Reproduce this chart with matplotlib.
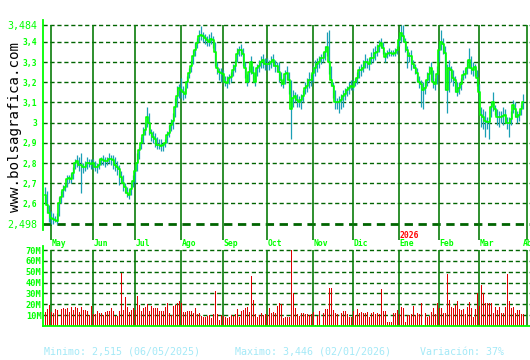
import matplotlib
matplotlib.use('Agg')
from matplotlib import pyplot as plt

# cierres diarios (abr-2025 .. mar-2026)
close_apr = [2.64, 2.59, 2.55]
close_may = [2.53, 2.525, 2.52, 2.515, 2.60, 2.63, 2.665, 2.68, 2.72, 2.725, 2.72,
             2.75, 2.80, 2.81, 2.79, 2.79, 2.78, 2.78, 2.80, 2.80, 2.795]
close_jun = [2.80, 2.78, 2.78, 2.79, 2.82, 2.815, 2.81, 2.81, 2.82, 2.82, 2.815,
             2.79, 2.78, 2.77, 2.73, 2.70, 2.68, 2.65, 2.64, 2.67, 2.71]
close_jul = [2.76, 2.80, 2.865, 2.90, 2.94, 2.965, 3.03, 3.00, 2.95, 2.93, 2.92, 2.89,
             2.89, 2.885, 2.89, 2.90, 2.94, 2.95, 2.99, 3.01, 3.08, 3.13, 3.17]
close_ago = [3.16, 3.15, 3.14, 3.20, 3.245, 3.28, 3.33, 3.36, 3.395, 3.43, 3.435,
             3.43, 3.42, 3.41, 3.40, 3.415, 3.41, 3.35, 3.27, 3.25, 3.245]
close_sep = [3.24, 3.20, 3.195, 3.22, 3.225, 3.26, 3.28, 3.34, 3.36, 3.36, 3.34,
             3.27, 3.20, 3.25, 3.30, 3.245, 3.20, 3.27, 3.28, 3.30, 3.31, 3.29]
close_oct = [3.29, 3.29, 3.30, 3.31, 3.28, 3.28, 3.25, 3.21, 3.19, 3.24, 3.245, 3.21,
             3.07, 3.12, 3.13, 3.11, 3.10, 3.11, 3.13, 3.17, 3.18, 3.21, 3.21]
close_nov = [3.245, 3.27, 3.29, 3.30, 3.32, 3.32, 3.35, 3.375, 3.30, 3.21, 3.18,
             3.10, 3.10, 3.10, 3.11, 3.13, 3.14, 3.16, 3.17, 3.18]
close_dic = [3.175, 3.20, 3.22, 3.26, 3.26, 3.27, 3.30, 3.30, 3.29, 3.32, 3.32, 3.345,
             3.35, 3.38, 3.395, 3.37, 3.325, 3.34, 3.345, 3.345, 3.34, 3.345, 3.36]
close_ene = [3.41, 3.446, 3.43, 3.40, 3.36, 3.33, 3.33, 3.29, 3.27, 3.245, 3.20,
             3.19, 3.16, 3.17, 3.21, 3.24, 3.27, 3.20, 3.19, 3.24]
close_feb = [3.36, 3.40, 3.39, 3.345, 3.16, 3.27, 3.26, 3.22, 3.21, 3.15, 3.17,
             3.19, 3.235, 3.24, 3.27, 3.31, 3.27, 3.26, 3.275, 3.22]
close_mar = [3.15, 3.04, 3.03, 3.01, 3.005, 3.004, 3.08, 3.10, 3.07, 3.03, 3.03, 3.03,
             3.035, 3.04, 3.00, 3.00, 3.02, 3.09, 3.07, 3.03, 3.04, 3.07, 3.10]

high_apr = [2.68, 2.66, 2.59]
high_may = [2.56, 2.55, 2.54, 2.55, 2.63, 2.66, 2.69, 2.70, 2.74, 2.74, 2.75,
            2.78, 2.82, 2.84, 2.83, 2.85, 2.80, 2.81, 2.83, 2.82, 2.82]
high_jun = [2.82, 2.81, 2.80, 2.82, 2.83, 2.84, 2.83, 2.83, 2.85, 2.84, 2.84,
            2.83, 2.81, 2.79, 2.76, 2.74, 2.70, 2.68, 2.67, 2.70, 2.74]
high_jul = [2.79, 2.85, 2.88, 2.93, 2.98, 3.00, 3.08, 3.05, 2.97, 2.96, 2.95, 2.93,
            2.92, 2.92, 2.90, 2.92, 2.96, 2.99, 3.02, 3.05, 3.12, 3.18, 3.19]
high_ago = [3.22, 3.18, 3.17, 3.23, 3.27, 3.31, 3.36, 3.40, 3.42, 3.46, 3.48,
            3.45, 3.44, 3.43, 3.44, 3.45, 3.43, 3.40, 3.30, 3.27, 3.27]
high_sep = [3.26, 3.23, 3.23, 3.24, 3.25, 3.29, 3.31, 3.37, 3.38, 3.39, 3.37,
            3.30, 3.24, 3.28, 3.33, 3.28, 3.25, 3.29, 3.31, 3.33, 3.34, 3.32]
high_oct = [3.32, 3.31, 3.33, 3.34, 3.31, 3.30, 3.30, 3.25, 3.22, 3.26, 3.28, 3.25,
            3.21, 3.16, 3.15, 3.14, 3.13, 3.14, 3.16, 3.20, 3.22, 3.25, 3.24]
high_nov = [3.28, 3.31, 3.32, 3.33, 3.34, 3.35, 3.38, 3.45, 3.46, 3.28, 3.20,
            3.16, 3.12, 3.13, 3.14, 3.16, 3.17, 3.18, 3.20, 3.21]
high_dic = [3.21, 3.22, 3.25, 3.28, 3.29, 3.31, 3.34, 3.32, 3.32, 3.35, 3.37, 3.38,
            3.39, 3.41, 3.42, 3.40, 3.35, 3.36, 3.37, 3.36, 3.36, 3.37, 3.38]
high_ene = [3.43, 3.484, 3.484, 3.42, 3.38, 3.35, 3.36, 3.31, 3.29, 3.27, 3.23,
            3.21, 3.20, 3.21, 3.25, 3.28, 3.30, 3.26, 3.22, 3.28]
high_feb = [3.39, 3.46, 3.42, 3.38, 3.29, 3.31, 3.28, 3.26, 3.23, 3.20, 3.20,
            3.22, 3.26, 3.27, 3.31, 3.37, 3.33, 3.30, 3.29, 3.26]
high_mar = [3.19, 3.08, 3.07, 3.06, 3.03, 3.03, 3.10, 3.15, 3.09, 3.07, 3.06, 3.06,
            3.08, 3.07, 3.03, 3.03, 3.06, 3.11, 3.10, 3.06, 3.06, 3.09, 3.14]

low_apr = [2.60, 2.55, 2.51]
low_may = [2.50, 2.498, 2.51, 2.50, 2.54, 2.60, 2.63, 2.66, 2.68, 2.70, 2.70,
           2.72, 2.77, 2.78, 2.76, 2.65, 2.75, 2.76, 2.77, 2.78, 2.77]
low_jun = [2.77, 2.76, 2.75, 2.77, 2.79, 2.79, 2.78, 2.79, 2.80, 2.79, 2.77,
           2.76, 2.74, 2.69, 2.70, 2.66, 2.65, 2.63, 2.62, 2.64, 2.68]
low_jul = [2.70, 2.76, 2.82, 2.87, 2.90, 2.94, 2.98, 2.94, 2.91, 2.90, 2.88, 2.87,
           2.87, 2.86, 2.86, 2.88, 2.90, 2.93, 2.96, 2.97, 3.03, 3.08, 3.12]
low_ago = [3.12, 3.11, 3.12, 3.17, 3.22, 3.25, 3.29, 3.33, 3.37, 3.40, 3.41,
           3.40, 3.39, 3.38, 3.38, 3.39, 3.37, 3.28, 3.24, 3.21, 3.20]
low_sep = [3.20, 3.18, 3.17, 3.19, 3.20, 3.23, 3.25, 3.30, 3.33, 3.33, 3.28,
           3.22, 3.18, 3.20, 3.24, 3.20, 3.18, 3.23, 3.25, 3.27, 3.27, 3.26]
low_oct = [3.26, 3.26, 3.27, 3.28, 3.25, 3.25, 3.20, 3.18, 3.17, 3.19, 3.21, 3.14,
           2.92, 3.08, 3.10, 3.08, 3.08, 3.07, 3.10, 3.14, 3.15, 3.17, 3.18]
low_nov = [3.20, 3.23, 3.25, 3.27, 3.29, 3.30, 3.31, 3.33, 3.24, 3.18, 3.12,
           3.07, 3.07, 3.05, 3.07, 3.08, 3.11, 3.13, 3.14, 3.16]
low_dic = [3.16, 3.18, 3.19, 3.22, 3.23, 3.25, 3.27, 3.27, 3.26, 3.29, 3.30, 3.31,
           3.33, 3.35, 3.37, 3.34, 3.30, 3.32, 3.33, 3.33, 3.33, 3.33, 3.34]
low_ene = [3.38, 3.40, 3.40, 3.35, 3.27, 3.30, 3.26, 3.27, 3.24, 3.20, 3.17,
           3.08, 3.07, 3.14, 3.18, 3.20, 3.21, 3.17, 3.16, 3.19]
low_feb = [3.30, 3.36, 3.34, 3.16, 3.05, 3.15, 3.20, 3.18, 3.15, 3.13, 3.14,
           3.16, 3.21, 3.22, 3.24, 3.27, 3.24, 3.23, 3.23, 3.18]
low_mar = [3.10, 2.98, 2.97, 2.93, 2.97, 2.92, 3.03, 3.06, 3.04, 2.99, 2.98, 3.00,
           2.99, 3.00, 2.97, 2.93, 2.99, 3.05, 3.03, 3.00, 3.01, 3.04, 3.07]

# volumen diario en millones
vol_a = [13.2, 15.6, 19.3, 13.2, 12.3, 15.6, 14.7, 0.9, 15.6, 16.3,
         15.6, 16.3, 13.2, 17.8, 14.7, 17.8, 16.3, 13.2, 17.8, 14.7,
         14.7, 13.8, 10.1, 18.7, 11.0, 11.0, 14.1, 12.3, 11.7, 10.1,
         12.6, 14.1, 14.1, 16.3, 13.8, 9.2, 9.2, 14.1, 48.5, 14.7,
         27.0, 17.8, 13.2, 14.7, 16.3, 14.7, 27.6, 19.3, 14.1, 16.3,
         17.8, 20.2, 13.8, 18.7, 16.3, 16.3, 16.3, 13.8, 13.8, 14.1,
         17.8, 20.9, 11.7, 10.1, 18.7, 19.3, 20.9, 23.0, 21.5, 13.2,
         13.2, 13.8, 13.8, 13.8, 11.7, 16.3, 11.0, 11.7, 9.2, 8.6,
         8.6, 9.2, 10.1, 7.7, 11.0, 32.2, 11.0, 5.5, 10.1, 9.2,
         8.6, 7.4, 8.0, 10.1, 9.2, 11.0, 15.6, 8.6, 13.8, 14.7,
         16.3, 17.8, 13.2, 46.0, 23.9, 11.0, 8.6, 10.1, 12.3, 10.1,
         11.0, 10.1, 16.3]
vol_b = [11.7, 13.2, 11.7, 18.5, 20.9, 20.3, 7.1, 8.0, 8.6, 8.0,
         70.2, 30.2, 16.3, 10.8, 9.2, 12.3, 11.7, 10.8, 10.8, 10.2,
         10.8, 13.2, 0.8, 9.2, 13.8, 0.8, 11.7, 15.7, 15.7, 34.8,
         34.8, 14.8, 11.7, 10.8, 0.9, 11.7, 13.8, 13.8, 10.8, 8.6,
         8.6, 13.8, 10.2, 15.4, 12.3, 13.2, 11.7, 12.3, 13.2, 8.6,
         11.7, 13.2, 10.8, 12.3, 10.8, 34.2, 13.8, 13.8, 4.0, 4.0,
         4.0, 11.7, 12.3, 14.8, 10.8, 17.2, 16.3, 4.0, 10.2, 10.2,
         10.8, 18.5, 10.2, 11.7, 10.8, 20.9, 0.9, 11.7, 8.6, 9.2,
         13.2, 16.3, 10.8, 20.9, 16.3, 16.9, 11.7, 11.7, 48.0, 24.0,
         17.2, 16.3, 19.4, 23.1, 15.4, 14.8, 15.4, 10.8, 17.2, 22.5,
         16.3, 8.6, 15.4, 30.2, 18.5, 37.8, 30.8, 20.9, 20.9, 20.9,
         20.9, 11.7, 17.8, 14.8, 17.2, 11.7, 11.7, 17.2, 48.0, 23.1,
         16.3, 17.2, 11.7, 14.8, 14.8, 10.8, 10.8]

closes = (close_apr + close_may + close_jun + close_jul + close_ago + close_sep +
          close_oct + close_nov + close_dic + close_ene + close_feb + close_mar)
highs = (high_apr + high_may + high_jun + high_jul + high_ago + high_sep +
         high_oct + high_nov + high_dic + high_ene + high_feb + high_mar)
lows = (low_apr + low_may + low_jun + low_jul + low_ago + low_sep +
        low_oct + low_nov + low_dic + low_ene + low_feb + low_mar)
volumes = vol_a + vol_b

months = ['May', 'Jun', 'Jul', 'Ago', 'Sep', 'Oct', 'Nov', 'Dic', 'Ene', 'Feb', 'Mar', 'Abr']
month_start = [3, 24, 45, 68, 89, 111, 134, 154, 177, 197, 217, 241]

price_ticks = [3.484, 3.4, 3.3, 3.2, 3.1, 3.0, 2.9, 2.8, 2.7, 2.6, 2.498]
price_labels = ['3,484', '3,4', '3,3', '3,2', '3,1', '3', '2,9', '2,8', '2,7', '2,6', '2,498']
vol_ticks = [10, 20, 30, 40, 50, 60, 70]
vol_labels = ['10M', '20M', '30M', '40M', '50M', '60M', '70M']

GREEN = '#00ff00'
DARK = '#006400'
VLINE = '#0a7d0a'
TEAL = '#1a9fb5'
MONO = 'DejaVu Sans Mono'

days = list(range(len(closes)))

fig = plt.figure(figsize=(5.3, 3.6), dpi=100)
W, H = 530.0, 360.0

# --- precio ---
ax = fig.add_axes([43 / W, 1 - 240 / H, 487 / W, 220 / H])
ax.set_xlim(-1, 242.5)
ax.set_ylim(2.4186, 3.5088)
ax.patch.set_alpha(0)
for s in ['top', 'right', 'bottom']:
    ax.spines[s].set_visible(False)
ax.spines['left'].set_color(GREEN)
ax.spines['left'].set_linewidth(1.3)
ax.spines['left'].set_bounds(2.468, 3.5088)

for t in price_ticks:
    lw = 2.0 if t == 2.498 else 1.0
    ax.axhline(t, color=DARK, lw=lw, dashes=(3, 2), zorder=1)
ax.vlines(month_start, 2.4186, 3.484, color=VLINE, lw=1.2, zorder=1)

ax.vlines(days, lows, highs, color=TEAL, lw=0.9, zorder=2)
ax.step(days, closes, where='mid', color=GREEN, lw=1.2, zorder=3)

ax.set_xticks([])
ax.set_yticks(price_ticks)
ax.set_yticklabels(price_labels)
ax.tick_params(axis='y', length=0, pad=4, colors=GREEN)
for lab in ax.get_yticklabels():
    if lab.get_text() in ('3,484', '2,498'):
        lab.set_fontsize(7.2)
    else:
        lab.set_fontsize(5.8)
        lab.set_fontweight('bold')
    lab.set_family(MONO)

trans = ax.get_xaxis_transform()
label_x = month_start[:-1] + [238.5]
for m, d in zip(months, label_x):
    ax.text(d + 0.3, -0.014, m, transform=trans, color=GREEN, fontsize=5.8,
            family=MONO, fontweight='bold', ha='left', va='center', clip_on=False)
ax.text(month_start[8] + 0.3, 0.02, '2026', transform=trans, color='red', fontsize=5.8,
        family=MONO, fontweight='bold', ha='left', va='center', clip_on=False)

# --- volumen ---
av = fig.add_axes([43 / W, 1 - 326 / H, 487 / W, 80 / H])
av.set_xlim(-1, 242.5)
av.set_ylim(0, 73.7)
av.patch.set_alpha(0)
for s in ['top', 'right']:
    av.spines[s].set_visible(False)
av.spines['left'].set_color(GREEN)
av.spines['bottom'].set_color(GREEN)
av.spines['left'].set_linewidth(1.3)
av.spines['bottom'].set_linewidth(1.3)

for t in vol_ticks:
    av.axhline(t, color=DARK, lw=1.0, dashes=(3, 2), zorder=1)
av.vlines(month_start, 0, 70, color=VLINE, lw=1.2, zorder=1)
av.bar(days, volumes, width=0.5, color='#e00000', linewidth=0,
       antialiased=False, zorder=2)

av.set_xticks([])
av.set_yticks(vol_ticks)
av.set_yticklabels(vol_labels)
av.tick_params(axis='y', length=0, pad=1, colors=GREEN)
for lab in av.get_yticklabels():
    lab.set_fontsize(6.2)
    lab.set_fontweight('bold')
    lab.set_family(MONO)

# --- textos ---
fig.text(15 / W, 1 - 127 / H, 'www.bolsagrafica.com', rotation=90, fontsize=10.2,
         family=MONO, color='black', ha='center', va='center')
info_color = '#a4e9f7'
fig.text(44 / W, 1 - 352 / H, 'Minimo: 2,515 (06/05/2025)', fontsize=7.2,
         family=MONO, color=info_color, va='center')
fig.text(235 / W, 1 - 352 / H, 'Maximo: 3,446 (02/01/2026)', fontsize=7.2,
         family=MONO, color=info_color, va='center')
fig.text(420 / W, 1 - 352 / H, 'Variación: 37%', fontsize=7.2,
         family=MONO, color=info_color, va='center')

fig.savefig('out.png', dpi=100)
